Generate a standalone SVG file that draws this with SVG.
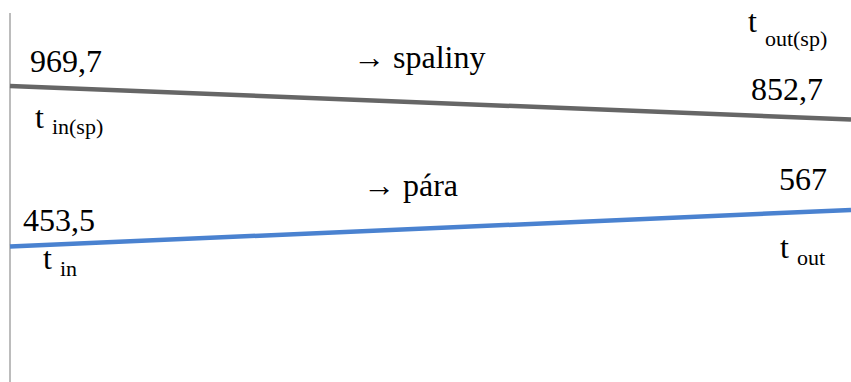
<svg xmlns="http://www.w3.org/2000/svg" width="851" height="382" viewBox="0 0 851 382">
<rect width="851" height="382" fill="#fff"/>
<g id="connectors">
<line id="axis" x1="10" y1="13" x2="10" y2="382" stroke="#a6a6a6" stroke-width="1.5"/>
<line id="spaliny-line" x1="10" y1="86" x2="851" y2="119.5" stroke="#666" stroke-width="4.5"/>
<line id="para-line" x1="10" y1="246.5" x2="851" y2="210" stroke="#4a82d0" stroke-width="4.5"/>
</g>
<g id="spaliny">
<text x="30" y="72" font-family="Liberation Serif" font-size="32" style="font-family:'Liberation Serif',serif !important">969,7</text>
<text x="35" y="128" font-family="Liberation Serif" font-size="32" style="font-family:'Liberation Serif',serif !important">t <tspan font-family="Liberation Serif" font-size="22" dy="6" style="font-family:'Liberation Serif',serif !important">in(sp)</tspan></text>
<text x="353" y="68" font-family="Liberation Serif" font-size="32" style="font-family:'Liberation Serif',serif !important">→ spaliny</text>
<text x="748" y="32" font-family="Liberation Serif" font-size="32" style="font-family:'Liberation Serif',serif !important">t <tspan font-family="Liberation Serif" font-size="22" dy="14" style="font-family:'Liberation Serif',serif !important">out(sp)</tspan></text>
<text x="751" y="100" font-family="Liberation Serif" font-size="32" style="font-family:'Liberation Serif',serif !important">852,7</text>
</g>
<g id="para">
<text x="23" y="231" font-family="Liberation Serif" font-size="32" style="font-family:'Liberation Serif',serif !important">453,5</text>
<text x="43" y="269" font-family="Liberation Serif" font-size="32" style="font-family:'Liberation Serif',serif !important">t <tspan font-family="Liberation Serif" font-size="22" dy="7" style="font-family:'Liberation Serif',serif !important">in</tspan></text>
<text x="363" y="196" font-family="Liberation Serif" font-size="32" style="font-family:'Liberation Serif',serif !important">→ pára</text>
<text x="779" y="190" font-family="Liberation Serif" font-size="32" style="font-family:'Liberation Serif',serif !important">567</text>
<text x="780" y="258" font-family="Liberation Serif" font-size="32" style="font-family:'Liberation Serif',serif !important">t <tspan font-family="Liberation Serif" font-size="22" dy="7" style="font-family:'Liberation Serif',serif !important">out</tspan></text>
</g>
</svg>
